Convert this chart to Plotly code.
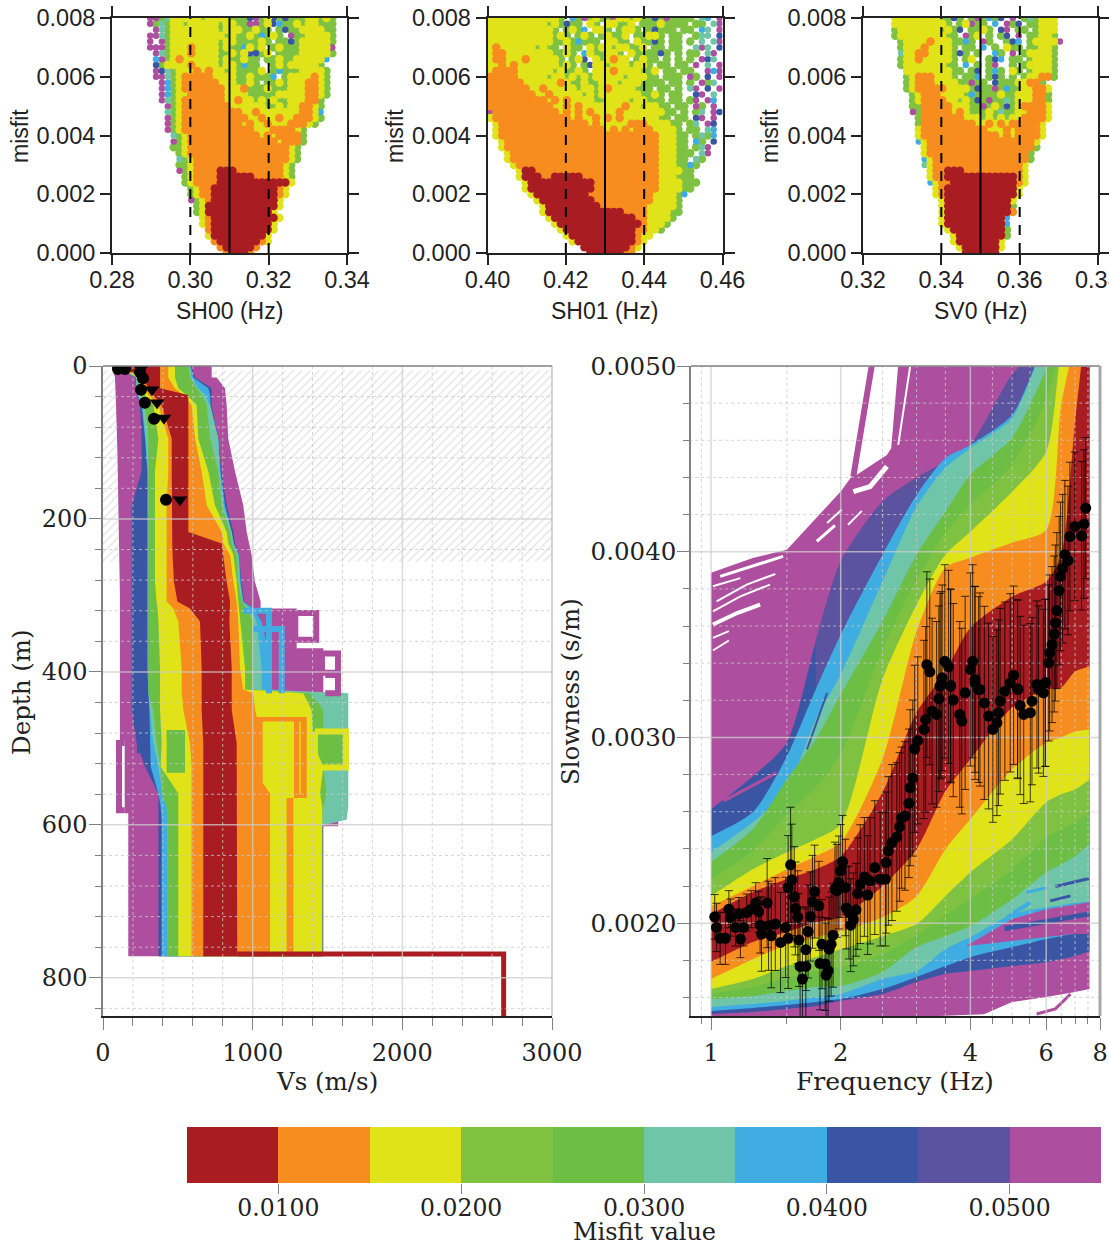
import plotly.graph_objects as go

W, H = 1109, 1247
COLORS = dict(r="#A81C22", o="#F78D1E", y="#E0E318", g="#7FC242", G="#6DBE45",
              t="#6EC5A8", b="#3FADE2", n="#3B55A5", v="#5B52A0", p="#AD4E9E")

# ---- misfit clouds: rows from misfit 0.008 down to 0, one character per frequency bin
SH00_ROWS = [
"......ppgtyyyyygyyyygggnpgyngngggyygyg",
"......pgtgyygyyyyygyyggppgynbggygyyggg",
".......ptgyyyyyyyygyyyggygg.gnggyyyygg",
"......pptgyyyyyyyyygyggygbgyg.pggyyyyg",
"......p.pgyyyyyyyygyyggggyg.ggngyyyyyg",
"......pppgyyyoyyyygyggbygy.gygggyyyyyp",
".......ptgyyyoyyyyggygynngy.ggggyyyyyg",
".......bpgyoyyyyyygyggygg.ggyggyyyyyb",
".......ngyyyyoyyyygyygbgg..gygyyyyyg",
".......pntgyyyoyoyygyggggy.gbgggyyyyg",
".......pptgyoooooyyyyggygggb.gyyyyoyg",
"........pbgyooooooyyyggyg.ggygyyyooyg",
"........pbgyoooooooyyyogggygggyyyooyg",
"........pbgyyooooooyyyygggggyyyyyooyg",
"........ptgyoooooooyyoyygygyggyyyoog",
".........pgyooooooooyyyyyyggygyyooyg",
".........tgyooooooooooyyoyyyyyyyooyb",
".........pgyoooooooooooyyoyyoyyoooyg",
".........pgyooooooooooyoyyoyyyoooyg",
".........pgyooooooooooooyyyooooyg",
"..........tgyooooooooooooyoyoooog",
"..........pgyoooooooooooooooyooog",
"..........ggyoooooooooooooooooyg",
"...........gyoooooooooooooooooyg",
"...........tgyooooooooooooooooyg",
"...........ggyoooooooooooooooyg",
"...........pgyoooorrrooooooooyg",
"............gyoooorrrrrroooooyg",
"............gyoooorrrrrrrrrrrry",
".............gyoorrrrrrrrrrroy",
".............gyoorrrrrrrrrrroy",
".............pgyorrrrrrrrrrry",
"..............gyrrrrrrrrrrrry",
"..............gyrrrrrrrrrrry",
"...............yorrrrrrrrrrry",
"...............yorrrrrrrrrry",
"................orrrrrrrrrry",
"................yrrrrrrrrry",
".................orrrrrrroy",
"..................orrrrro",
"...................orrro",
]
SH01_ROWS = [
"yyyyyyyyyyyyg.bgpgyggpyygyggngpgggg.tb.p",
"yyyyyyyyyygygngg.yg.yyggy.gggygggg.gg.tp",
"yyyyyyyyyyyg.gygb.yyg.gyyg.gnggg.gg.bt.p",
"yyyyyyyyyyygyg.gyg.gyggy.ggyyg.gg..gtt.n",
"yyyyyyyyyyyggygbggg.yygg.yggng.gg.g.t.tp",
"yoyyyyyygygg.ygg.ygyygyyggy.gg.gg..tpt.n",
"yooyyyyyyyyggyg.byggyyg.yggggng.g.gg.tp.",
"yooyyyoyyyyyg.gyn.ygyoyy.gygg.g.g.g.pnt.",
"yyoyoyyyyyyygyg.gnyygyyygyyg.gg.gg.p.t.p",
"yooooyyyyyygyggyg.yyyoyyyyggy.gg.gg..pbp",
"oooooyyyyygyygygygyyyyygyyygg.ggg.pg.n.p",
"ooooooyyyyyyoyggyggyyygyyygggg.gg.g.pgt.",
"oooooooyyoyyyyygyygyoyyyyggg.gg.g.tp.n.p",
"ooooooooyyoyyyyygygyyyyyyyggyg.gg..np.t.",
"ooooooooooyoyoyyyyggyyyygyyggg.gg.gp.pb.",
"oooooooooooyyoyoyyyyyyyoyygyygg.gg.pg.p",
"poooooooooooyoyoyoyyyyoyyyyyyygg.g.gt.pn",
"yoooooooooooooyoyyoyoyoyyyyyygg.gg.np.p",
".yoooooooooooooooyoyyyyyoooyyyygg.gt.pn.",
".yooooooooooooooooooyoyoyoooyyyyg.gg.tb.",
".yoooooooooooooooooooooooooooyyygg.gtgb",
"..yooooooooooooooooooooooooooyyygg.bg.n",
"..yooooooooooooooooooooooooooyyygg.gtp",
"...yoooooooooooooooooooooooooyyyggg.tp",
"...yoooooooooooooooooooooooooyyygg.tg",
"....yooooooooooooooooooooooooyyyggbg",
".....yrroooooooooooooooooooooyyyygg",
".....yrrroorrrrroooooooooooooyyyggg",
"......yrrrrrrrrrrroooooooooooyyyyggg",
"......yrrrrrrrrrrroooooooooooyyyygg",
".......yrrrrrrrrroooooooooooyyyygb",
"........yrrrrrrrrrooooooooooyyyyg",
".........yrrrrrrrrrooooooooyyyyyg",
".........yrrrrrrrrrrrrrooooyyyygg",
"..........yrrrrrrrrrrrrrrooyyyyg",
"...........yrrrrrrrrrrrrrroyyyg",
"............yrrrrrrrrrrrrooyyg",
".............yrrrrrrrrrrroyy",
"..............yrrrrrrrrrroy",
"................rrrrrrrroy",
".................rrrrrroo",
]
SV0_ROWS = [
".....yyyyyyyyggng.gpgbgn.p.gtgyyy",
".....yyyyyyyyyg.gypgg.b.pgn.ggyyy",
".....gyyyyyyygygn.ggyg.np.gg.gyyy",
".....gyyyyyyyygg.pgy.g.gn.p.ggyyg",
"......gyyyyoyyyggbg.pg..gnb.gyyyyp",
"......gyyyoyyyyg.gg.b.g.ygg.ggyyg",
"......tyyooyyyygng.g..bg.p.gyyyyg",
"......gyyoyyyyyg.gy..gnb.gg.gyyyg",
"......gyyyyyyygg.b.g.gp..g.gyyyyg",
".......yyyyyyyygg.gn.gbg.yg.gyyyg",
".......gyoooyyyg.ggb.gng.g.gyyoog",
".......gyoooyyyyggpgg.ngggyyoog",
".......gyoooooyyyygnggpgbggyyooy",
"........gyoooyyyygbggggyggyyyoog",
"........gyooooyygygngpggtgyyyoog",
"........ggoooooyyyggpgygngyooooy",
"........pgoooooyoygggygtggyyoooy",
".........goooooooyyygygygyyooooy",
".........goooooooooyyoyoyoooooy",
".........yoooooooooooyyyoyooooy",
".........yoooooooooooooyoyooooy",
".........byooooooooooooooooooy",
"..........yoooooooooooooooooog",
"..........yooooooooooooooooog",
"..........byoooooooooooooooog",
"..........tyoooooooooooooooy",
"...........yoorrrooooooooooy",
"...........yoorrrrrrrrrrrroy",
"...........byoorrrrrrrrrrroy",
"............yorrrrrrrrrrrry",
"............yorrrrrrrrrrrry",
".............yrrrrrrrrrrry",
".............yrrrrrrrrrrrg",
".............yrrrrrrrrrrro",
".............yrrrrrrrrrrb",
".............yrrrrrrrrrrb",
"..............yrrrrrrrrrg",
"...............yrrrrrrrrg",
"...............yrrrrrrry",
"................yrrrrrry",
".................rrrrrr",
]
PANELS = [("SH00 (Hz)", 0.28, [0.28, 0.30, 0.32, 0.34], 0.31, SH00_ROWS),
          ("SH01 (Hz)", 0.40, [0.40, 0.42, 0.44, 0.46], 0.43, SH01_ROWS),
          ("SV0 (Hz)", 0.32, [0.32, 0.34, 0.36, 0.38], 0.35, SV0_ROWS)]
FREQ_BIN = 0.0015
MISFIT_BIN = 0.0002

# ---- velocity profile bands (m/s) at shared depths (m)
DEPTH = [0, 15, 29, 38, 51, 95, 138, 182, 217, 232, 247, 282, 308, 317, 334, 395, 423, 428, 450, 493, 524, 559, 576, 593, 602, 772]
RED_L = [102, 269, 303, 336, 392, 459, 459, 459, 459, 463, 465, 474, 497, 581, 648, 659, 659, 659, 659, 670, 670, 670, 670, 670, 670, 670]
RED_R = [381, 381, 381, 570, 570, 570, 570, 570, 570, 793, 804, 826, 849, 849, 844, 860, 860, 860, 860, 893, 897, 897, 897, 897, 897, 897]
ORANGE_L = [91, 247, 281, 303, 370, 436, 436, 425, 425, 425, 425, 421, 425, 470, 503, 526, 526, 526, 537, 581, 592, 592, 592, 592, 592, 592]
ORANGE_R = [436, 436, 481, 537, 592, 615, 659, 693, 793, 804, 849, 871, 893, 897, 904, 915, 937, 1004, 1016, 1071, 1071, 1116, 1116, 1116, 1116, 1116]
YELLOW_L = [87, 236, 258, 281, 336, 370, 347, 347, 347, 347, 347, 347, 358, 365, 370, 381, 381, 381, 381, 392, 385, 503, 503, 503, 503, 503]
YELLOW_R = [481, 481, 503, 559, 626, 637, 704, 748, 826, 837, 871, 893, 904, 909, 915, 949, 949, 1338, 1394, 1405, 1472, 1450, 1465, 1465, 1465, 1465]
GREEN_L = [80, 225, 236, 247, 281, 303, 303, 303, 303, 303, 303, 303, 303, 303, 303, 303, 303, 303, 336, 358, 385, 392, 425, 430, 430, 430]
GREEN_R = [570, 581, 626, 659, 693, 715, 770, 792, 849, 860, 893, 904, 926, 960, 1004, 1004, 1004, 1383, 1472, 1472, 1472, 1494, 1472, 1465, 1465, 1465]
TEAL_L = [76, 220, 225, 234, 263, 285, 301, 301, 301, 301, 301, 301, 301, 301, 301, 301, 305, 305, 314, 336, 370, 395, 425, 430, 430, 430]
TEAL_R = [581, 592, 637, 682, 715, 770, 781, 804, 860, 871, 904, 915, 933, 982, 1027, 1060, 1060, 1639, 1639, 1639, 1639, 1639, 1639, 1628, 1450, 1450]
BLUE_L = [73, 218, 223, 229, 258, 281, 296, 296, 296, 296, 296, 296, 296, 296, 296, 296, 303, 303, 310, 314, 319, 370, 385, 392, 392, 392]
BLUE_R = [587, 604, 704, 715, 719, 770, 786, 815, 860, 875, 909, 920, 938, 1004, 1060, 1127, 1127, 1338, 1338, 1338, 1338, 1338, 1338, 1338, 1338, 1338]
NAVY_L = [69, 214, 220, 225, 247, 258, 258, 192, 192, 192, 192, 192, 192, 192, 192, 192, 192, 192, 192, 225, 281, 370, 370, 370, 370, 370]
NAVY_R = [592, 615, 726, 726, 726, 770, 792, 826, 871, 882, 909, 926, 942, 1004, 1060, 1060, 1060, 1472, 1472, 1472, 1472, 1472, 1472, 1472, 1472, 1472]
PURPLE_L_DEPTH = [0, 15, 51, 110, 297, 489, 489, 585, 585, 772]
PURPLE_L = [58, 80, 87, 96, 113, 113, 145, 145, 169, 169]
PURPLE_R_DEPTH = [772, 602, 602, 578, 578, 428, 428, 369, 369, 317, 317, 308, 282, 247, 217, 182, 138, 95, 51, 29, 15, 15, 0]
PURPLE_R = [1465, 1465, 1572, 1572, 1595, 1595, 1472, 1472, 1294, 1294, 1053, 1053, 1015, 993, 960, 937, 882, 837, 826, 815, 759, 726, 726]
INNER_ORANGE_DEPTH = [459, 565, 565, 772, 772, 459]
INNER_ORANGE_VS = [1361, 1361, 1272, 1272, 1004, 1004]
INNER_YELLOW_DEPTH = [465, 565, 565, 772, 772, 559, 545, 465]
INNER_YELLOW_VS = [1276, 1276, 1227, 1227, 1116, 1116, 1067, 1067]
GREEN_PATCH_DEPTH = [476, 476, 532, 532]
GREEN_PATCH_VS = [425, 548, 548, 425]
GREEN_BOX_DEPTH = [478, 478, 525, 525]
GREEN_BOX_VS = [1472, 1606, 1606, 1472]
# (colour, width, Vs, depth) single models standing out of the bands
OUTLIERS = [
    ("p", 6, [1285, 1425, 1425, 1285, 1285], [323, 323, 358, 358, 323]),
    ("p", 6, [1463, 1570, 1570, 1463, 1463], [376, 376, 401, 401, 376]),
    ("p", 6, [1485, 1570, 1570, 1485], [404, 404, 428, 428]),
    ("p", 6, [145, 107, 107, 145], [493, 493, 581, 581]),
    ("n", 5, [243, 243, 314], [470, 503, 503]),
    ("b", 6, [937, 1109, 1109], [320, 320, 428]),
    ("b", 6, [1004, 1194, 1194], [344, 344, 428]),
    ("y", 6, [1416, 1623, 1623, 1416, 1416], [478, 478, 525, 525, 478]),
    ("y", 1.5, [1316, 1316], [465, 560]),
    ("r", 5, [897, 2677, 2677], [769, 769, 850]),
]
PICK_CIRCLE_VS = [100, 147, 247, 267, 254, 280, 341, 421]
PICK_CIRCLE_D = [4, 4, 8, 16, 31, 48, 69, 175]
PICK_TRI_VS = [147, 254, 327, 361, 407, 514]
PICK_TRI_D = [3, 4, 31, 48, 68, 175]

# ---- dispersion curve bands: slowness (x 1e-3 s/m) at shared frequencies (Hz)
FREQ = [1, 1.25, 1.5, 1.75, 2, 2.5, 3, 3.5, 4, 5, 6, 6.5, 7, 7.56]
RED_U = [2.048, 2.167, 2.237, 2.29, 2.36, 2.704, 3.134, 3.355, 3.591, 3.758, 3.839, 3.984, 4.699, 5.409]
RED_D = [1.79, 1.898, 1.952, 2.005, 2.032, 2.199, 2.398, 2.71, 2.882, 3.161, 3.258, 3.269, 3.355, 3.382]
ORANGE_U = [2.091, 2.199, 2.29, 2.36, 2.435, 2.882, 3.57, 3.914, 3.968, 4.048, 4.118, 4.79, 5.14, 5.46]
ORANGE_D = [1.699, 1.806, 1.882, 1.925, 1.957, 2.032, 2.145, 2.398, 2.559, 2.828, 2.973, 3.0, 3.032, 3.043]
YELLOW_U = [2.145, 2.29, 2.382, 2.452, 2.532, 3.312, 3.715, 3.984, 4.108, 4.323, 4.538, 5.086, 5.355, 5.46]
YELLOW_D = [1.645, 1.699, 1.769, 1.817, 1.86, 1.93, 1.995, 2.145, 2.274, 2.452, 2.651, 2.694, 2.72, 2.774]
LIGHTGREEN_U = [2.237, 2.387, 2.586, 2.731, 2.909, 3.473, 3.849, 4.102, 4.253, 4.468, 4.817, 5.113, 5.301, 5.46]
LIGHTGREEN_D = [1.618, 1.656, 1.704, 1.742, 1.763, 1.833, 1.935, 2.038, 2.129, 2.29, 2.462, 2.505, 2.543, 2.602]
DARKGREEN_U = [2.328, 2.505, 2.774, 2.989, 3.231, 3.624, 3.984, 4.215, 4.414, 4.613, 4.978, 5.14, 5.247, 5.46]
DARKGREEN_D = [1.591, 1.608, 1.634, 1.656, 1.661, 1.737, 1.871, 1.93, 1.984, 2.129, 2.274, 2.317, 2.36, 2.425]
TEAL_U = [2.382, 2.543, 2.72, 3.097, 3.339, 3.839, 4.242, 4.452, 4.559, 4.72, 5.14, 5.247, 5.355, 5.46]
TEAL_D = [1.548, 1.565, 1.581, 1.602, 1.618, 1.699, 1.742, 1.86, 1.925, 2.048, 2.086, 2.097, 2.108, 2.118]
BLUE_U = [2.468, 2.597, 2.898, 3.258, 3.554, 3.984, 4.306, 4.505, 4.575, 4.737, 5.14, 5.247, 5.355, 5.46]
BLUE_D = [1.527, 1.543, 1.559, 1.575, 1.591, 1.645, 1.71, 1.769, 1.817, 1.871, 1.914, 1.93, 1.941, 1.941]
NAVY_U = [2.613, 2.79, 2.973, 3.516, 3.946, 4.269, 4.398, 4.484, 4.575, 4.952, 5.14, 5.247, 5.355, 5.46]
NAVY_D = [1.511, 1.522, 1.538, 1.554, 1.581, 1.618, 1.683, 1.726, 1.742, 1.769, 1.79, 1.806, 1.823, 1.849]
PURPLE_U_F = [1, 1.25, 1.5, 1.75, 2, 2.12, 2.18, 2.56, 2.62, 2.73, 7.56]
PURPLE_U = [3.887, 3.966, 4.011, 4.181, 4.324, 4.405, 4.414, 4.521, 4.557, 5.05, 5.05]
PURPLE_D_F = [7.56, 7, 6, 5, 4.3, 1]
PURPLE_D = [1.645, 1.629, 1.602, 1.575, 1.51, 1.45]
WEDGE_F = [3.9, 5, 6, 7, 7.56, 7.56, 7, 6, 5, 3.9]
WEDGE_S = [1.876, 2.022, 2.075, 2.102, 2.113, 1.941, 1.941, 1.925, 1.903, 1.876]
# (colour, width, frequency, slowness) individual curves and gaps between curves
STREAKS = [
    ("#ffffff", 3, [1.05, 1.21, 1.47], [3.867, 3.912, 3.975]),
    ("#ffffff", 2, [1.01, 1.17], [3.814, 3.858]),
    ("#ffffff", 2, [1.03, 1.21, 1.41], [3.733, 3.823, 3.88]),
    ("#ffffff", 2, [1.01, 1.17, 1.37], [3.679, 3.76, 3.823]),
    ("#ffffff", 4, [1.01, 1.15, 1.30], [3.608, 3.67, 3.715]),
    ("#ffffff", 2, [1.01, 1.10], [3.536, 3.572]),
    ("#ffffff", 2, [1.01, 1.10], [3.468, 3.522]),
    ("#ffffff", 5, [2.14, 2.34, 2.56], [4.324, 4.351, 4.459]),
    ("#ffffff", 3, [1.76, 1.94], [4.056, 4.142]),
    ("#ffffff", 2, [1.86, 2.01], [4.154, 4.226]),
    ("#ffffff", 2, [2.08, 2.24], [4.145, 4.22]),
    ("#ffffff", 2, [2.72, 2.90], [4.575, 5.0]),
    ("#AD4E9E", 6, [2.14, 2.38], [4.405, 5.05]),
    ("#AD4E9E", 3, [1.07, 1.42], [2.658, 2.81]),
    ("#3FADE2", 4, [4.86, 5.51], [2.03, 2.111]),
    ("#3FADE2", 3, [5.41, 6.03], [2.165, 2.192]),
    ("#3B55A5", 3, [6.13, 6.83], [2.12, 2.147]),
    ("#3B55A5", 3, [6.3, 7.54], [2.197, 2.24]),
    ("#3B55A5", 5, [4.8, 6, 7.56], [1.97, 2.01, 2.05]),
    ("#3B55A5", 2, [1.67, 1.86], [2.935, 3.24]),
    ("#AD4E9E", 3, [5.7, 6.3, 6.83], [1.511, 1.538, 1.618]),
]
OBS_F = [1.02, 1.03, 1.05, 1.08, 1.10, 1.11, 1.14, 1.16, 1.19, 1.17, 1.21, 1.24, 1.27, 1.29, 1.30, 1.31, 1.35, 1.36, 1.38, 1.41,
         1.45, 1.49, 1.51, 1.51, 1.54, 1.53, 1.56, 1.57, 1.59, 1.60, 1.66, 1.68, 1.70, 1.61, 1.66, 1.63, 1.74, 1.72, 1.78, 1.81,
         1.79, 1.84, 1.87, 1.85, 1.90, 1.88, 1.92, 1.94, 1.98, 1.96, 2.05, 2.00, 2.02, 2.06, 2.09, 2.17, 2.14, 2.11, 2.19, 2.22,
         2.27, 2.31, 2.34, 2.40, 2.47, 2.54, 2.55, 2.58, 2.63, 2.70, 2.74, 2.77, 2.82, 2.88, 2.90, 2.94, 2.97, 3.02, 3.12, 3.15,
         3.26, 3.34, 3.38, 3.42, 3.60, 3.65, 3.78, 3.82, 3.89, 4.10, 4.21, 4.31, 4.41, 4.65, 4.61, 4.51, 4.69, 4.81, 4.95, 5.15,
         5.22, 5.32, 5.51, 5.56, 5.76, 5.91, 5.97, 3.17, 3.22, 3.49, 3.56, 3.44, 3.40, 3.60, 4.05, 4.00, 4.10, 4.18, 5.04, 5.15,
         5.71, 5.97, 6.08, 6.11, 6.19, 6.26, 6.30, 6.35, 6.43, 6.48, 6.55, 6.74, 6.63, 6.81, 6.99, 7.25, 7.34, 7.41]
OBS_S = [2.034, 1.977, 1.918, 1.918, 2.075, 2.03, 1.977, 2.048, 1.977, 1.914, 2.057, 2.075, 2.108, 2.061, 1.989, 1.941, 2.108, 1.986, 1.932, 1.995,
         1.896, 1.977, 1.918, 2.192, 2.233, 2.314, 2.142, 2.079, 2.032, 1.909, 1.857, 1.955, 2.036, 1.767, 1.767, 1.699, 2.17, 2.115, 2.093, 1.887,
         1.783, 1.78, 1.744, 1.72, 1.887, 1.86, 1.935, 2.186, 2.219, 2.174, 2.192, 2.281, 2.33, 2.081, 2.057, 2.072, 2.02, 1.989, 2.159, 2.21,
         2.249, 2.151, 2.228, 2.299, 2.237, 2.237, 2.326, 2.389, 2.434, 2.464, 2.518, 2.568, 2.577, 2.645, 2.729, 2.781, 2.939, 2.984, 3.043, 3.097,
         3.142, 3.124, 3.208, 3.285, 3.28, 3.201, 3.124, 3.088, 3.24, 3.294, 3.258, 3.186, 3.115, 3.133, 3.079, 3.043, 3.195, 3.249, 3.294, 3.262,
         3.172, 3.124, 3.133, 3.195, 3.258, 3.24, 3.294, 3.392, 3.353, 3.41, 3.38, 3.321, 3.276, 3.276, 3.41, 3.366, 3.312, 3.258, 3.335, 3.258,
         3.285, 3.294, 3.401, 3.455, 3.5, 3.557, 3.616, 3.683, 3.79, 3.867, 3.909, 3.953, 3.984, 4.082, 4.136, 4.086, 4.149, 4.235]
OBS_ERR = [.12, .13, .14, .14, .10, .10, .10, .09, .10, .10, .10, .10, .11, .11, .15, .20, .24, .24, .28, .25,
           .27, .27, .27, .28, .30, .31, .27, .25, .25, .25, .22, .25, .24, .32, .32, .30, .25, .25, .24, .24,
           .25, .25, .28, .28, .28, .28, .28, .25, .25, .25, .26, .25, .25, .22, .25, .25, .25, .25, .30, .32,
           .32, .32, .34, .36, .36, .36, .38, .40, .42, .40, .40, .38, .40, .40, .42, .42, .45, .45, .48, .50,
           .50, .50, .50, .50, .52, .52, .50, .50, .52, .52, .52, .52, .50, .50, .50, .50, .50, .48, .48, .48,
           .48, .48, .48, .45, .45, .45, .45, .50, .50, .52, .52, .50, .50, .52, .52, .52, .50, .50, .48, .48,
           .45, .45, .42, .42, .42, .42, .42, .42, .40, .40, .40, .40, .40, .40, .40, .40, .40, .38]
F_MAJOR = [1, 2, 4, 6]
F_MINOR = [0.95, 1.5, 2.5, 3, 3.5, 4.5, 5, 5.5, 6.5, 7, 7.5]
S_MAJOR = [2, 3, 4, 5]
S_MINOR = [1.6, 1.8, 2.2, 2.4, 2.6, 2.8, 3.2, 3.4, 3.6, 3.8, 4.2, 4.4, 4.6, 4.8]
VS_MAJOR = [1000, 2000]
VS_MINOR = [200, 400, 600, 800, 1200, 1400, 1600, 1800, 2200, 2400, 2600, 2800]
D_MAJOR = [200, 400, 600, 800]
D_MINOR = [40, 80, 120, 160, 240, 280, 320, 360, 440, 480, 520, 560, 640, 680, 720, 760, 840]

# ---- misfit colour scale
SCALE_EDGES = [0.005, 0.010, 0.015, 0.020, 0.025, 0.030, 0.035, 0.040, 0.045, 0.050, 0.055]
SCALE_TICKS = [0.01, 0.02, 0.03, 0.04, 0.05]
SCALE_KEYS = ["r", "o", "y", "g", "G", "t", "b", "n", "v", "p"]

fig = go.Figure()
LINE = "#222222"
GREY = "#808080"
SANS = "Liberation Sans"
SERIF = "DejaVu Serif"


def dom_x(a, b):
    return [a / W, b / W]


def dom_y(top, bottom):
    return [1 - bottom / H, 1 - top / H]


layout = dict(width=W, height=H, autosize=False, margin=dict(l=0, r=0, t=0, b=0, autoexpand=False), template="none",
              paper_bgcolor="white", plot_bgcolor="white", showlegend=False)

# ---- top row
for k, (label_text, x0, ticks, best, rows) in enumerate(PANELS):
    n = k + 1
    xa, ya = f"x{n}", f"y{n}"
    left = [112, 487.5, 863][k]
    common = dict(showline=True, mirror="ticks", linewidth=2, linecolor=LINE, ticks="outside", ticklen=10,
                  tickwidth=1.5, tickcolor=LINE, showgrid=False, zeroline=False, automargin=False,
                  tickfont=dict(family=SANS, size=23.5, color=LINE))
    layout[f"xaxis{n}"] = dict(domain=dom_x(left, left + 235), anchor=ya, range=[ticks[0], ticks[-1]],
                               tickvals=ticks, tickformat=".2f", ticklabelstandoff=-5, **common)
    layout[f"yaxis{n}"] = dict(domain=dom_y(18, 253), anchor=xa, range=[0, 0.008],
                               tickvals=[0, 0.002, 0.004, 0.006, 0.008], tickformat=".3f", **common)
    cloud = {}
    for j, row in enumerate(rows):
        for i, ch in enumerate(row):
            if ch != ".":
                cloud.setdefault(ch, ([], []))
                cloud[ch][0].append(x0 + (i + 0.5) * FREQ_BIN)
                cloud[ch][1].append(0.008 - j * MISFIT_BIN)
    for ch in "gpnbtyor":
        if ch in cloud:
            fig.add_trace(go.Scatter(x=cloud[ch][0], y=cloud[ch][1], mode="markers", xaxis=xa, yaxis=ya,
                                     marker=dict(size=8.5 if ch in "gyor" else 6.5, color=COLORS[ch], line=dict(width=0)),
                                     hoverinfo="skip"))
    fig.add_trace(go.Scatter(x=[best, best], y=[0, 0.008], mode="lines", xaxis=xa, yaxis=ya,
                             line=dict(color="black", width=2), hoverinfo="skip"))
    for t in (best - 0.01, best + 0.01):
        fig.add_trace(go.Scatter(x=[t, t], y=[0, 0.008], mode="lines", xaxis=xa, yaxis=ya,
                                 line=dict(color="black", width=2, dash="10px,8px"), hoverinfo="skip"))

# ---- velocity profile
layout["xaxis4"] = dict(domain=dom_x(103, 552), anchor="y4", range=[0, 3000], tickvals=[0, 1000, 2000, 3000],
                        showline=True, linewidth=1.5, linecolor=LINE, ticks="outside", ticklen=12, tickcolor=GREY,
                        showgrid=False, zeroline=False, ticklabelstandoff=2, automargin=False,
                        tickfont=dict(family=SERIF, size=24, color=LINE),
                        minor=dict(tickvals=VS_MINOR, ticks="outside", ticklen=8, tickcolor=GREY, showgrid=False))
layout["yaxis4"] = dict(domain=dom_y(366, 1016), anchor="x4", range=[850, 0], tickvals=[0, 200, 400, 600, 800],
                        showline=True, linewidth=1.5, linecolor=GREY, ticks="outside", ticklen=12, tickcolor=GREY,
                        showgrid=False, zeroline=False, automargin=False, ticklabelstandoff=-3,
                        tickfont=dict(family=SERIF, size=24, color=LINE),
                        minor=dict(tickvals=D_MINOR, ticks="outside", ticklen=6, tickcolor=GREY, showgrid=False))


def poly(xa, ya, xs, ys, color, smooth=False):
    line = dict(width=0, color=color)
    if smooth:
        line.update(shape="spline", smoothing=0.7)
    fig.add_trace(go.Scatter(x=xs, y=ys, mode="lines", fill="toself", fillcolor=color, xaxis=xa, yaxis=ya,
                             line=line, hoverinfo="skip"))


def segs(xa, ya, xs, ys, color, width, dash="solid"):
    fig.add_trace(go.Scatter(x=xs, y=ys, mode="lines", xaxis=xa, yaxis=ya,
                             line=dict(color=color, width=width, dash=dash), hoverinfo="skip"))


fig.add_trace(go.Scatter(x=[0, 3000, 3000, 0, 0], y=[6, 6, 256, 256, 6], mode="lines", fill="toself", xaxis="x4", yaxis="y4",
                         fillcolor="white", line=dict(width=0),
                         fillpattern=dict(shape="/", fgcolor="#e2e2e2", bgcolor="white", size=6, solidity=0.2),
                         hoverinfo="skip"))
poly("x4", "y4", PURPLE_L + PURPLE_R, PURPLE_L_DEPTH + PURPLE_R_DEPTH, COLORS["p"])
for key, L, R in [("n", NAVY_L, NAVY_R), ("b", BLUE_L, BLUE_R), ("t", TEAL_L, TEAL_R), ("G", GREEN_L, GREEN_R),
                  ("y", YELLOW_L, YELLOW_R), ("o", ORANGE_L, ORANGE_R)]:
    poly("x4", "y4", L + R[::-1], DEPTH + DEPTH[::-1], COLORS[key])
poly("x4", "y4", GREEN_PATCH_VS, GREEN_PATCH_DEPTH, COLORS["G"])
poly("x4", "y4", GREEN_BOX_VS, GREEN_BOX_DEPTH, COLORS["G"])
poly("x4", "y4", INNER_ORANGE_VS, INNER_ORANGE_DEPTH, COLORS["o"])
poly("x4", "y4", INNER_YELLOW_VS, INNER_YELLOW_DEPTH, COLORS["y"])
poly("x4", "y4", RED_L + RED_R[::-1], DEPTH + DEPTH[::-1], COLORS["r"])
for key, width, xs, ys in OUTLIERS:
    segs("x4", "y4", xs, ys, COLORS[key], width)
GRID_MAJOR = "rgba(205,205,205,0.75)"
GRID_MINOR = "rgba(200,200,200,0.8)"


def grid(xa, ya, xvals, yvals, xspan, yspan, color, width, dash):
    xs, ys = [], []
    for v in xvals:
        xs += [v, v, None]
        ys += [yspan[0], yspan[1], None]
    for v in yvals:
        xs += [xspan[0], xspan[1], None]
        ys += [v, v, None]
    segs(xa, ya, xs, ys, color, width, dash)


grid("x4", "y4", VS_MINOR, D_MINOR, [0, 3000], [0, 850], GRID_MINOR, 1, "dot")
grid("x4", "y4", VS_MAJOR, D_MAJOR, [0, 3000], [0, 850], GRID_MAJOR, 1.5, "solid")
fig.add_trace(go.Scatter(x=PICK_CIRCLE_VS, y=PICK_CIRCLE_D, mode="markers", xaxis="x4", yaxis="y4",
                         marker=dict(symbol="circle", size=12, color="black"), hoverinfo="skip"))
fig.add_trace(go.Scatter(x=PICK_TRI_VS, y=PICK_TRI_D, mode="markers", xaxis="x4", yaxis="y4",
                         marker=dict(symbol="triangle-down", size=13, color="black"), hoverinfo="skip"))

# ---- dispersion panel (slowness typed in 1e-3 s/m)
layout["xaxis5"] = dict(domain=dom_x(691, 1100), anchor="y5", type="log", range=[-0.0465, 0.903],
                        tickvals=[1, 2, 4, 6, 8], ticktext=["1", "2", "4", "6", "8"],
                        showline=True, linewidth=1.5, linecolor=LINE, ticks="outside", ticklen=12, tickcolor=GREY,
                        showgrid=False, zeroline=False, ticklabelstandoff=2, automargin=False,
                        tickfont=dict(family=SERIF, size=24, color=LINE),
                        minor=dict(tickvals=F_MINOR, ticks="outside", ticklen=6, tickcolor=GREY, showgrid=False))
layout["yaxis5"] = dict(domain=dom_y(366, 1016), anchor="x5", range=[0.0015, 0.0050],
                        tickvals=[0.002, 0.003, 0.004, 0.005], tickformat=".4f",
                        showline=True, linewidth=1.5, linecolor=GREY, ticks="outside", ticklen=12, tickcolor=GREY,
                        showgrid=False, zeroline=False, automargin=False, ticklabelstandoff=-4,
                        tickfont=dict(family=SERIF, size=24.5, color=LINE),
                        minor=dict(tickvals=[v / 1000 for v in S_MINOR], ticks="outside", ticklen=6, tickcolor=GREY, showgrid=False))


def m(vals):
    return [None if v is None else v / 1000 for v in vals]


def band(key, U, D, F=FREQ):
    # corners are repeated so the smoothed outline keeps them sharp
    xs = [F[0]] + F + [F[-1], F[-1]] + F[::-1] + [F[0]]
    ys = [U[0]] + U + [U[-1], D[-1]] + D[::-1] + [D[0]]
    poly("x5", "y5", xs, m(ys), COLORS[key], smooth=True)


poly("x5", "y5", PURPLE_U_F + PURPLE_D_F, m(PURPLE_U + PURPLE_D), COLORS["p"])
band("n", NAVY_U, NAVY_D)
band("v", NAVY_U[3:], BLUE_U[3:], FREQ[3:])
for key, U, D in [("b", BLUE_U, BLUE_D), ("t", TEAL_U, TEAL_D)]:
    band(key, U, D)
poly("x5", "y5", WEDGE_F, m(WEDGE_S), COLORS["p"])
for key, U, D in [("G", DARKGREEN_U, DARKGREEN_D), ("g", LIGHTGREEN_U, LIGHTGREEN_D), ("y", YELLOW_U, YELLOW_D),
                  ("o", ORANGE_U, ORANGE_D), ("r", RED_U, RED_D)]:
    band(key, U, D)
for color, width, fs, ss in STREAKS:
    segs("x5", "y5", fs, m(ss), color, width)
grid("x5", "y5", F_MINOR, m(S_MINOR), [0.89, 8.1], [0.0015, 0.005], GRID_MINOR, 1, "dot")
grid("x5", "y5", F_MAJOR, m(S_MAJOR), [0.89, 8.1], [0.0015, 0.005], GRID_MAJOR, 1.5, "solid")
fig.add_trace(go.Scatter(x=OBS_F, y=m(OBS_S), mode="markers", xaxis="x5", yaxis="y5",
                         marker=dict(size=11, color="black"),
                         error_y=dict(type="data", array=m(OBS_ERR), visible=True, color="rgba(0,0,0,0.75)", thickness=1, width=4),
                         hoverinfo="skip"))

# ---- colour scale
layout["xaxis6"] = dict(domain=dom_x(187, 1101), anchor="y6", range=[SCALE_EDGES[0], SCALE_EDGES[-1]],
                        tickvals=SCALE_TICKS, tickformat=".4f", ticks="outside", ticklen=10, tickcolor=GREY,
                        showgrid=False, zeroline=False, showline=False, ticklabelstandoff=-6, automargin=False,
                        tickfont=dict(family=SERIF, size=23.5, color=LINE))
layout["yaxis6"] = dict(domain=dom_y(1127, 1183), anchor="x6", range=[0, 1], visible=False)
n_keys = len(SCALE_KEYS)
scale = []
for i, key in enumerate(SCALE_KEYS):
    scale += [[i / n_keys, COLORS[key]], [(i + 1) / n_keys, COLORS[key]]]
fig.add_trace(go.Heatmap(x=SCALE_EDGES, y=[0, 1], z=[list(range(n_keys))], xaxis="x6", yaxis="y6",
                         colorscale=scale, zmin=-0.5, zmax=n_keys - 0.5, showscale=False, hoverinfo="skip"))

# ---- labels
annots = []


def label(text, x, y, family, size, angle=0):
    annots.append(dict(text=text, x=x / W, y=1 - y / H, xref="paper", yref="paper", showarrow=False, textangle=angle,
                       xanchor="center", yanchor="middle", font=dict(family=family, size=size, color=LINE)))


for (lab, *_), lx, mx in zip(PANELS, (229, 604, 980), (20, 395, 770)):
    label(lab, lx, 311, SANS, 23)
    label("misfit", mx, 136, SANS, 23, -90)
label("0.38", 1098, 280, SANS, 23.5)
label("Depth (m)", 21, 692, SERIF, 24.5, -90)
label("Vs (m/s)", 327, 1081, SERIF, 24.5)
label("Slowness (s/m)", 570, 692, SERIF, 24.5, -90)
label("Frequency (Hz)", 895, 1081, SERIF, 25)
label("Misfit value", 644, 1232, SERIF, 24)
layout["annotations"] = annots

# ---- light frame on top/right of the two large panels
shapes = []
for a, b, wr in ((103, 552, 1), (691, 1100, 3)):
    shapes.append(dict(type="line", xref="paper", yref="paper", x0=a / W, x1=b / W, y0=1 - 366 / H, y1=1 - 366 / H,
                       line=dict(color=GREY, width=1.5), layer="above"))
    shapes.append(dict(type="line", xref="paper", yref="paper", x0=b / W, x1=b / W, y0=1 - 366 / H, y1=1 - 1016 / H,
                       line=dict(color="#a8a8a8", width=wr), layer="above"))
layout["shapes"] = shapes

fig.update_layout(**layout)
fig.write_html("out.html", config=dict(displayModeBar=False),
               post_script="document.body.style.margin='0';document.documentElement.style.overflow='hidden';")
